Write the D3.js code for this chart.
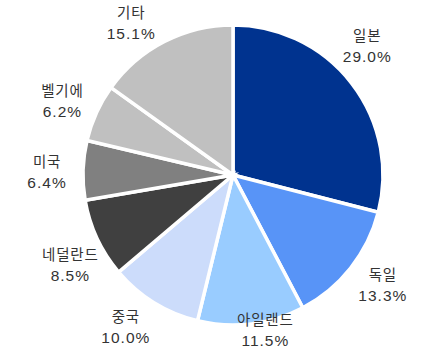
<!DOCTYPE html>
<html>
<head>
<meta charset="utf-8">
<script src="https://cdn.jsdelivr.net/npm/d3@7"></script>
<style>
  html, body { margin: 0; padding: 0; background: #fff; }
  svg { display: block; }
</style>
</head>
<body>
<svg id="chart" width="426" height="353"></svg>
<script>
// ---- data ----
const categories = ["일본", "독일", "아일랜드", "중국", "네덜란드", "미국", "벨기에", "기타"];
const shares = [29.0, 13.3, 11.5, 10.0, 8.5, 6.4, 6.2, 15.1];
const colors = ["#00338F", "#5894F7", "#99CCFF", "#CCDCFB", "#404040", "#808080", "#C0C0C0", "#C0C0C0"];
// label placement tweaks (degrees) to follow the reference's label layout
const labelNudgeDeg = [-6, -2, -3, 3.5, -4, -1, -1, -6];

// ---- layout ----
const W = 426, H = 353;
const cx = 233, cy = 175, R = 150, labelR = 186;

const svg = d3.select("#chart");
const g = svg.append("g").attr("transform", `translate(${cx},${cy})`);

const data = categories.map((c, i) => ({ name: c, value: shares[i], color: colors[i], nudge: labelNudgeDeg[i] }));

const pie = d3.pie().value(d => d.value).sort(null);
const arcs = pie(data);
const arc = d3.arc().innerRadius(0).outerRadius(R);

g.selectAll("path.slice")
  .data(arcs)
  .join("path")
  .attr("class", "slice")
  .attr("d", arc)
  .attr("fill", d => d.data.color)
  .attr("stroke", "#fff")
  .attr("stroke-width", 3.5)
  .attr("stroke-linejoin", "miter");

const fmt = d3.format(".1f");
const labels = g.selectAll("g.label")
  .data(arcs)
  .join("g")
  .attr("class", "label")
  .attr("transform", d => {
    const a = (d.startAngle + d.endAngle) / 2 + d.data.nudge * Math.PI / 180;
    const x = Math.sin(a) * labelR;
    let y = -Math.cos(a) * labelR;
    y = Math.max(-cy + 23, Math.min(H - cy - 23, y));
    return `translate(${x},${y})`;
  });

labels.append("text")
  .attr("text-anchor", "middle")
  .attr("y", -10)
  .attr("dy", "0.35em")
  .attr("font-family", "'Noto Sans CJK KR', 'Liberation Sans', sans-serif")
  .attr("font-size", "14.5px")
  .attr("letter-spacing", "0.8px")
  .attr("fill", "#333")
  .text(d => d.data.name);

labels.append("text")
  .attr("text-anchor", "middle")
  .attr("y", 10.5)
  .attr("dy", "0.35em")
  .attr("font-family", "'Liberation Sans', Arial, sans-serif")
  .attr("font-size", "15.5px")
  .attr("letter-spacing", "1px")
  .attr("fill", "#333")
  .text(d => fmt(d.data.value) + "%");
</script>
</body>
</html>
